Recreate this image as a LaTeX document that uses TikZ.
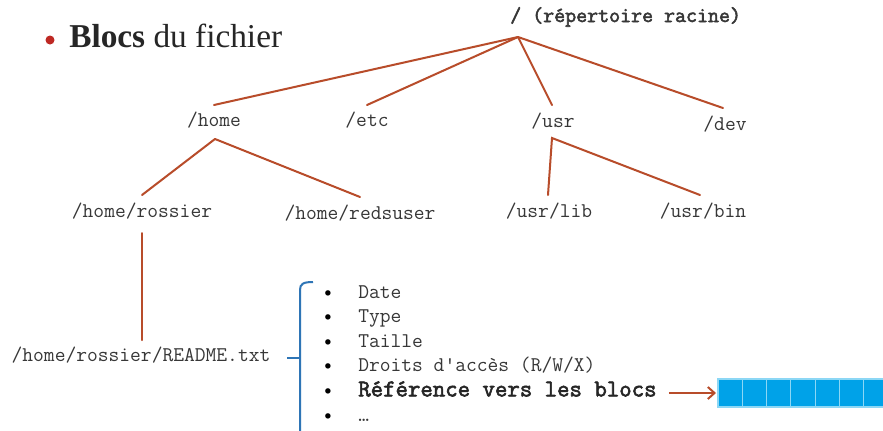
\documentclass[tikz,border=0pt]{standalone}
\usepackage{fontspec}
\setmainfont{Liberation Serif}
\newfontfamily\monof{Latin Modern Mono}[BoldFont={Latin Modern Mono}, BoldFeatures={FakeBold=2.5}]
\usetikzlibrary{arrows.meta}
\definecolor{treeline}{RGB}{184,76,42}
\definecolor{bracecol}{RGB}{46,117,182}
\definecolor{blockcol}{RGB}{0,162,232}
\definecolor{blocksep}{RGB}{140,215,245}
\definecolor{txtgray}{RGB}{55,55,55}
\definecolor{bulletred}{RGB}{190,40,35}
\tikzset{
  tree/.style={draw=treeline, line width=1.5pt, line cap=round},
  path/.style={font=\monof\fontsize{15.7}{16}\selectfont, text=txtgray, inner sep=0pt, anchor=base},
  item/.style={font=\monof\fontsize{15.7}{16}\selectfont, text=txtgray, inner sep=0pt, anchor=base west},
  dot/.style={font=\monof\fontsize{15.7}{16}\selectfont, text=black, inner sep=0pt, anchor=base},
  block/.style={fill=blockcol, draw=blocksep, line width=0.8pt},
}
\begin{document}
\begin{tikzpicture}[x=0.75pt,y=-0.75pt]
\useasboundingbox (0,0) rectangle (883,430);
\fill[white] (0,0) rectangle (883,430);

% title
\fill[bulletred] (50,40) circle (4.5);
\node[anchor=base west, inner sep=0pt, font=\fontsize{25}{27}\selectfont, text=black!85] (title) at (69,47) {\textbf{Blocs} du fichier};

% root
\node[anchor=base west, inner sep=0pt, font=\monof\bfseries\fontsize{16}{17}\selectfont, text=txtgray] (root) at (510,22) {/ (répertoire racine)};
\coordinate (rootj) at (518,37);

% level 1
\node[path] (home) at (214,126) {/home};
\node[path] (etc) at (367,126) {/etc};
\node[path] (usr) at (553,127) {/usr};
\node[path] (dev) at (725,130) {/dev};
\coordinate (home-in) at (214,105);
\coordinate (etc-in) at (367,105);
\coordinate (usr-in) at (552,105);
\coordinate (dev-in) at (723,108);
\coordinate (home-out) at (215,139);
\coordinate (usr-out) at (552,138);

% level 2
\node[path] (rossier) at (142,217) {/home/rossier};
\node[path] (redsuser) at (360,219) {/home/redsuser};
\node[path] (usrlib) at (549,217) {/usr/lib};
\node[path] (usrbin) at (703,217) {/usr/bin};
\coordinate (rossier-in) at (142,195);
\coordinate (redsuser-in) at (360,197);
\coordinate (usrlib-in) at (548,195);
\coordinate (usrbin-in) at (700,195);
\coordinate (rossier-out) at (142,233);

% file
\node[path] (readme) at (141,361) {/home/rossier/README.txt};
\coordinate (readme-in) at (142,340);

% tree lines
\draw[tree] (rootj) -- (home-in);
\draw[tree] (rootj) -- (etc-in);
\draw[tree] (rootj) -- (usr-in);
\draw[tree] (rootj) -- (dev-in);
\draw[tree] (home-out) -- (rossier-in);
\draw[tree] (home-out) -- (redsuser-in);
\draw[tree] (usrlib-in) -- (usr-out) -- (usrbin-in);
\draw[tree] (rossier-out) -- (readme-in);

% brace
\coordinate (brace-tick) at (287,358);
\draw[draw=bracecol, line width=1.5pt] (313,282) .. controls (303,282) and (300,284) .. (300,290) -- (300,432);
\draw[draw=bracecol, line width=1.5pt] (brace-tick) -- (300,358);

% list
\foreach \y/\n in {298/1,322.6/2,347.2/3,371.8/4,396.4/5,421/6}{
  \node[dot] (b\n) at (328,\y) {•};
}
\node[item] (i1) at (358,298) {Date};
\node[item] (i2) at (358,322.6) {Type};
\node[item] (i3) at (358,347.2) {Taille};
\node[item] (i4) at (358,371.8) {Droits d'accès (R/W/X)};
\node[item, font=\monof\bfseries\fontsize{18.1}{19}\selectfont, text=black!85] (i5) at (358,396.4) {Référence vers les blocs};
\node[item] (i6) at (358,421) {…};

% blocks
\foreach \k in {0,...,6}{
  \draw[block] ({718+\k*24.3},379) rectangle ({718+(\k+1)*24.3},407);
}
\coordinate (blocks) at (716,393);
\draw[draw=treeline, line width=1.5pt, shorten <=9pt, -{Straight Barb[length=5pt,width=9pt]}] (i5.east |- blocks) -- (blocks);
\end{tikzpicture}
\end{document}
